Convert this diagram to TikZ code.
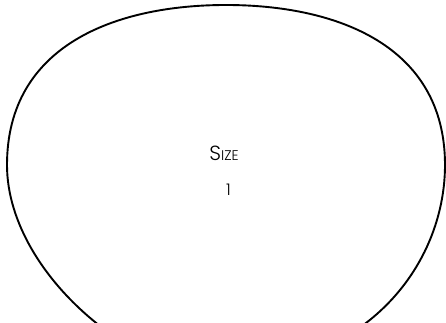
\documentclass[tikz,border=0pt]{standalone}
\usepackage{fontspec}
\setmainfont{Poppins}[UprightFont=* Light]
\tikzset{
  outline/.style={line width=1.9pt, line cap=round},
  lbl/.style={inner sep=0pt, anchor=base},
}
\begin{document}
\begin{tikzpicture}[x=1pt,y=1pt]
\useasboundingbox (0,0) rectangle (446,323);
\clip (0,0) rectangle (446,323);
\draw[outline] (100,-3) .. controls (45,40) and (7,100) .. (7,158)
  .. controls (7,278) and (116,318) .. (226,318)
  .. controls (336,318) and (445,278) .. (445,158)
  .. controls (445,100) and (418,38) .. (362,-3);
\node[lbl] (size) at (224,162) {\fontsize{20.5}{24}\selectfont S\fontsize{14}{16}\selectfont IZE};
\node[lbl] (num) at (228.5,127) {\fontsize{16}{18}\selectfont 1};
\end{tikzpicture}
\end{document}
